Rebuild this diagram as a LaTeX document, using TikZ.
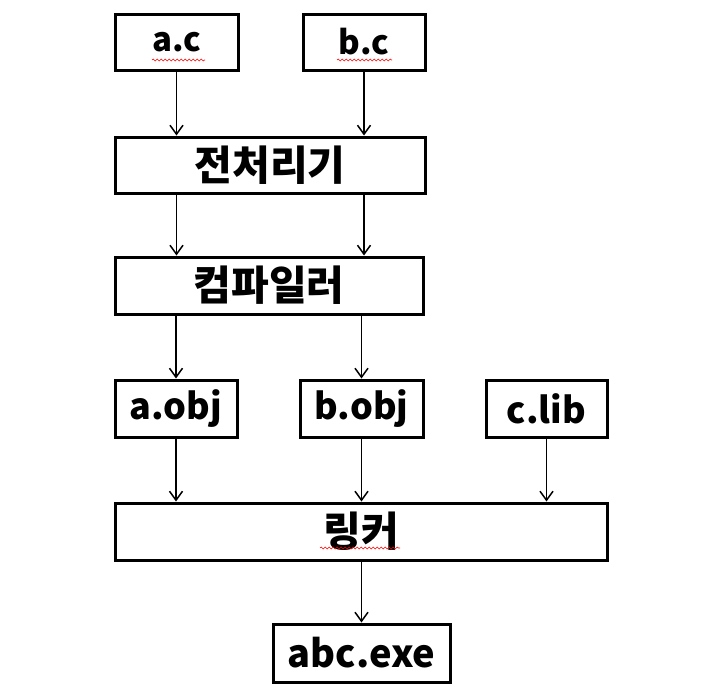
\documentclass[tikz,border=0pt]{standalone}
\usepackage{fontspec}
\newfontfamily\kr{Noto Sans CJK KR}
\usetikzlibrary{arrows.meta,decorations.pathmorphing}
\tikzset{
  box/.style={draw=black, line width=3pt, fill=white, inner sep=0pt, font=\kr\bfseries},
  arr/.style={line width=1.5pt, -{Straight Barb[length=9pt,width=13pt,line width=1.5pt]}},
  squig/.style={draw=red, line width=0.6pt, decorate, decoration={snake, segment length=4pt, amplitude=0.9pt}},
  fsrc/.style={font=\kr\bfseries\fontsize{33}{36}\selectfont},
  fobj/.style={font=\kr\bfseries\fontsize{36}{40}\selectfont},
  fexe/.style={font=\kr\bfseries\fontsize{38}{42}\selectfont},
  fkr/.style={font=\kr\bfseries\fontsize{41}{46}\selectfont}
}
\begin{document}
\begin{tikzpicture}[x=1pt,y=-1pt]
\useasboundingbox (0,0) rectangle (721,699);
\node[box,fsrc,minimum width=123pt,minimum height=56pt] (ac) at (176.5,42) {\raisebox{-3pt}{a.c}};
\node[box,fsrc,minimum width=122pt,minimum height=56pt] (bc) at (364,42) {\raisebox{-3pt}{b.c}};
\node[box,fkr,minimum width=310pt,minimum height=56pt] (pre) at (270,165) {전처리기};
\node[box,fkr,minimum width=308pt,minimum height=57pt] (comp) at (269,285.5) {컴파일러};
\node[box,fobj,minimum width=122pt,minimum height=57pt] (aobj) at (176,408.5) {a.obj};
\node[box,fobj,minimum width=123pt,minimum height=57pt] (bobj) at (361.5,408.5) {b.obj};
\node[box,fobj,minimum width=121pt,minimum height=57pt] (clib) at (546.5,408.5) {c.lib};
\node[box,fkr,minimum width=492pt,minimum height=57pt] (link) at (361,531.5) {링커};
\node[box,fexe,minimum width=177pt,minimum height=58pt] (exe) at (361.5,653) {abc.exe};
% connectors
\draw[arr] (ac.south) -- (ac.south |- pre.north);
\draw[arr] (bc.south) -- (bc.south |- pre.north);
\draw[arr] (ac.south |- pre.south) -- (ac.south |- comp.north);
\draw[arr] (bc.south |- pre.south) -- (bc.south |- comp.north);
\draw[arr] (aobj.north |- comp.south) -- (aobj.north);
\draw[arr] (bobj.north |- comp.south) -- (bobj.north);
\draw[arr] (aobj.south) -- (aobj.south |- link.north);
\draw[arr] (bobj.south) -- (bobj.south |- link.north);
\draw[arr] (clib.south) -- (clib.south |- link.north);
\draw[arr] (exe.north |- link.south) -- (exe.north);
% spell-check underlines
\coordinate (s1a) at (152,60); \coordinate (s1b) at (205,60);
\coordinate (s2a) at (337,60); \coordinate (s2b) at (392,60);
\coordinate (s3a) at (320,548); \coordinate (s3b) at (400,548);
\draw[squig] (s1a) -- (s1b);
\draw[squig] (s2a) -- (s2b);
\draw[squig] (s3a) -- (s3b);
\end{tikzpicture}
\end{document}
